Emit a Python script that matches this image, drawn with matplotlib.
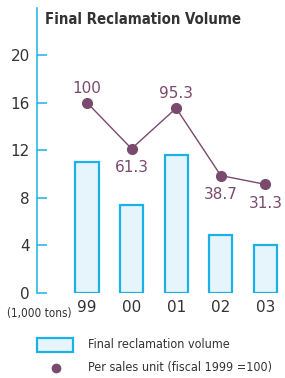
import numpy as np
import matplotlib
matplotlib.use('Agg')
import matplotlib.pyplot as plt
from matplotlib.patches import Rectangle
from matplotlib.lines import Line2D

# data
years = ['99', '00', '01', '02', '03']
volume = [11.0, 7.4, 11.6, 4.9, 4.0]          # 1,000 tons
per_unit = [100, 61.3, 95.3, 38.7, 31.3]      # fiscal 1999 = 100
yticks = [0, 4, 8, 12, 16, 20]

blue = '#1ab0e8'
fill = '#e6f4fb'
purple = '#7a4a6e'
grey = '#333333'
cond = dict(family='DejaVu Sans', fontstretch='condensed')

fig = plt.figure(figsize=(2.85, 3.78), dpi=100)
ax = fig.add_axes([37/285, 85/378, 248/285, 285/378])
x = np.arange(len(years))

ax.bar(x, volume, width=0.52, color=fill, edgecolor=blue, linewidth=1.6, zorder=2)
ax.set_xlim(-1.12, 4.44)
ax.set_ylim(0, 23.95)

for s in ['top', 'right', 'bottom']:
    ax.spines[s].set_visible(False)
ax.spines['left'].set_color(blue)
ax.spines['left'].set_linewidth(1.1)
ax.set_yticks(yticks)
ax.set_yticklabels([str(t) for t in yticks], fontsize=11, color=grey)
ax.tick_params(axis='y', direction='in', length=7, width=1.1, color=blue, pad=5)
ax.set_xticks(x)
ax.set_xticklabels(years, fontsize=11, color=grey)
ax.tick_params(axis='x', length=0, pad=5)

# index line on a hidden twin axis: y = 0.1*v + 6
ax2 = ax.twinx()
lo, hi = ax.get_ylim()
ax2.set_ylim((lo - 6) * 10, (hi - 6) * 10)
ax2.axis('off')
ax2.plot(x, per_unit, color=purple, linewidth=1.0, marker='o', markersize=7, zorder=3)
offs = [10.5, -13.5, 10.5, -14, -14]
for xi, v, o in zip(x, per_unit, offs):
    ax2.annotate(f'{v:g}', (xi, v), xytext=(0, o), textcoords='offset points',
                 ha='center', va='center', fontsize=11, color=purple)

fig.text(45/285, 1 - 20/378, 'Final Reclamation Volume', fontsize=10.7,
         fontweight='bold', color=grey, va='center', ha='left', **cond)
fig.text(7/285, 1 - 313/378, '(1,000 tons)', fontsize=8.4, color=grey,
         va='center', ha='left', **cond)

# legend
fig.patches.append(Rectangle((37/285, 1 - 352/378), 36/285, 14/378,
                             transform=fig.transFigure, facecolor=fill,
                             edgecolor=blue, linewidth=1.6))
fig.text(88/285, 1 - 345/378, 'Final reclamation volume', fontsize=9,
         color=grey, va='center', ha='left', **cond)
fig.lines.append(Line2D([56/285], [1 - 368/378], transform=fig.transFigure,
                        marker='o', markersize=6, color=purple, linestyle='none'))
fig.text(88/285, 1 - 368/378, 'Per sales unit (fiscal 1999 =100)', fontsize=9,
         color=grey, va='center', ha='left', **cond)

fig.savefig('out.png', dpi=100)
